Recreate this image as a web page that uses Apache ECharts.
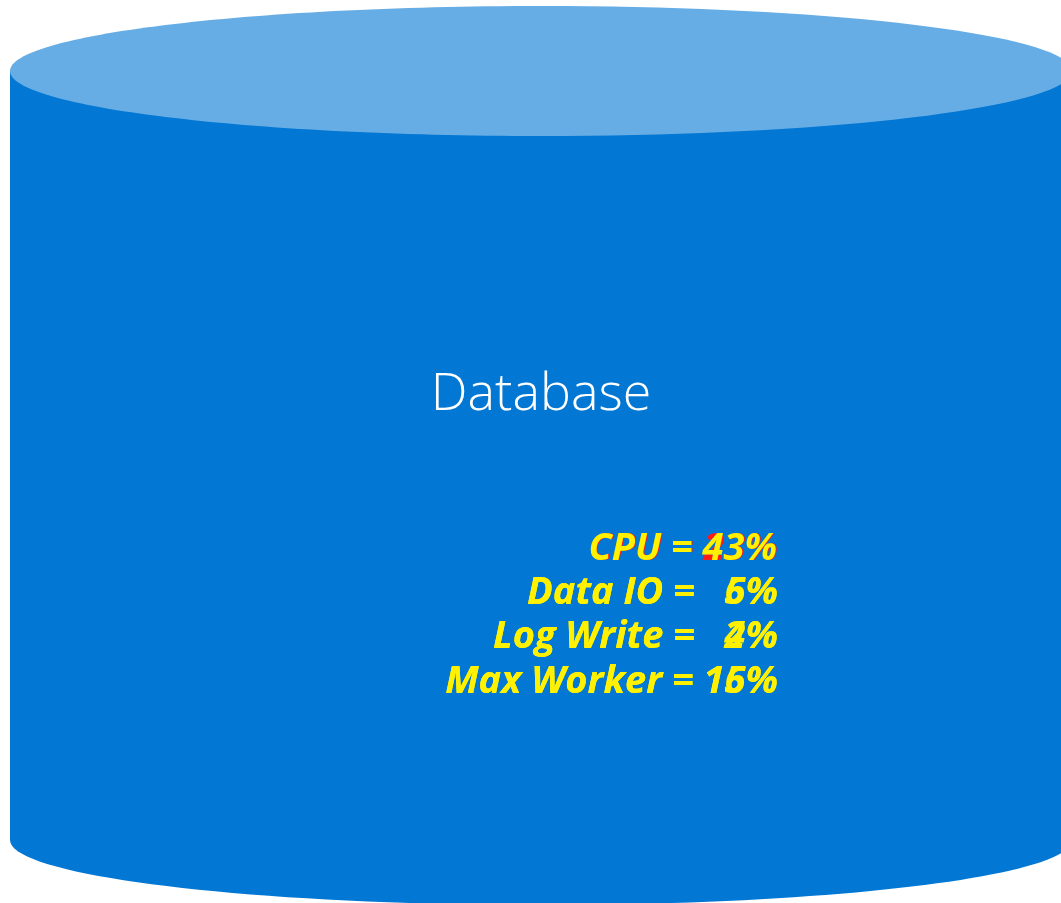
<!DOCTYPE html>
<html>
<head>
<meta charset="utf-8">
<script src="https://cdn.jsdelivr.net/npm/echarts@6/dist/echarts.min.js"></script>
<style>html,body{margin:0;padding:0;background:#fff}#c{width:1061px;height:903px}</style>
</head>
<body>
<div id="c"></div>
<script>
var title = 'Database';
var metricNames = ['CPU', 'Data IO', 'Log Write', 'Max Worker'];
var valuesA = [43, 6, 2, 16];
var valuesB = [23, 5, 4, 15];
var highlight = [true, false, false, false];

var chart = echarts.init(document.getElementById('c'), null, {renderer: 'canvas'});
var cx = 541, rx = 531, ry = 65, topY = 71, botY = 840;
var elements = [
  {type: 'rect', shape: {x: cx - rx, y: topY, width: 2 * rx, height: botY - topY}, style: {fill: '#0277D4'}},
  {type: 'ellipse', shape: {cx: cx, cy: botY, rx: rx, ry: ry}, style: {fill: '#0277D4'}},
  {type: 'ellipse', shape: {cx: cx, cy: topY, rx: rx, ry: ry}, style: {fill: '#66ADE5'}},
  {type: 'text', style: {text: title, x: 541, y: 395, align: 'center', verticalAlign: 'middle',
    fill: '#ffffff', font: '300 52px "Open Sans", sans-serif'}}
];
var lineY = [549, 593, 637, 682];
function fmt(v) { return (v < 10 ? '  ' : '') + v + '%'; }
metricNames.forEach(function (n, i) {
  var font = 'italic bold 38px "Open Sans", sans-serif';
  elements.push({type: 'text', style: {text: n + ' = ' + fmt(valuesB[i]), x: 778, y: lineY[i],
    align: 'right', verticalAlign: 'middle', font: font,
    fill: highlight[i] ? '#FF1A1A' : '#FFF100'}});
  elements.push({type: 'text', style: {text: n + ' = ' + fmt(valuesA[i]), x: highlight[i] ? 777 : 778, y: lineY[i],
    align: 'right', verticalAlign: 'middle', font: font, fill: '#FFF100'}});
});
chart.setOption({animation: false, graphic: {elements: elements}});
</script>
</body>
</html>
